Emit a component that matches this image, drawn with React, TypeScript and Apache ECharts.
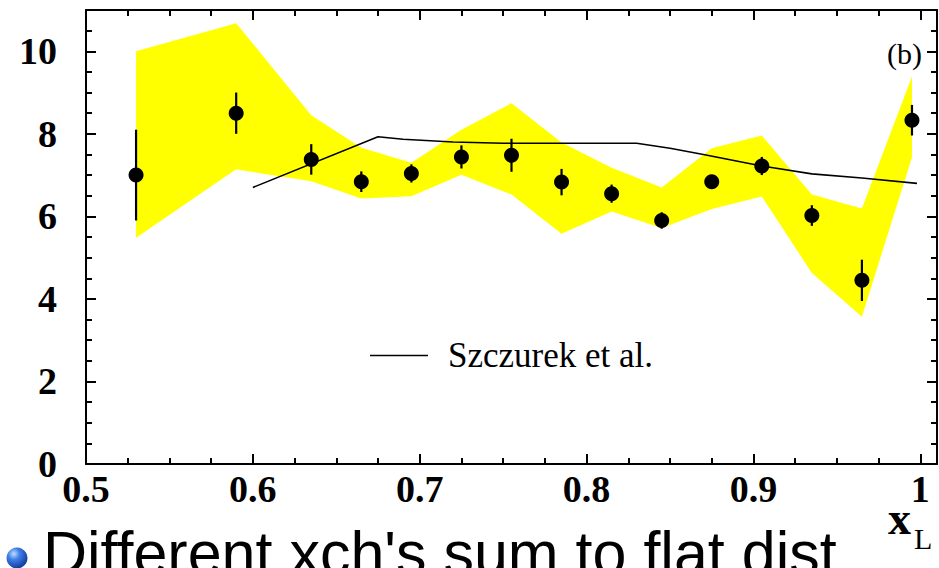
import React, { useEffect, useRef } from "react";
import * as echarts from "echarts";

// ---- data ----
const xValues = [0.53, 0.59, 0.635, 0.665, 0.695, 0.725, 0.755, 0.785, 0.815, 0.845, 0.875, 0.905, 0.935, 0.965, 0.995];
const yValues = [7.0, 8.5, 7.38, 6.84, 7.04, 7.44, 7.48, 6.83, 6.55, 5.9, 6.84, 7.22, 6.02, 4.45, 8.33];
const yErrors = [1.1, 0.5, 0.37, 0.25, 0.22, 0.28, 0.4, 0.32, 0.22, 0.2, 0.15, 0.22, 0.25, 0.5, 0.37];

const bandX = [0.53, 0.59, 0.635, 0.665, 0.695, 0.725, 0.755, 0.785, 0.815, 0.845, 0.875, 0.905, 0.935, 0.965, 0.995];
const bandUpper = [10.0, 10.68, 8.45, 7.66, 7.3, 8.1, 8.74, 7.79, 7.18, 6.7, 7.65, 7.96, 6.53, 6.19, 9.39];
const bandLower = [5.48, 7.14, 6.85, 6.43, 6.49, 7.01, 6.53, 5.58, 6.12, 5.72, 6.18, 6.48, 4.63, 3.57, 7.43];

const theoryX = [0.6, 0.675, 0.69, 0.72, 0.75, 0.83, 0.85, 0.87, 0.905, 0.935, 0.965, 0.998];
const theoryY = [6.7, 7.93, 7.87, 7.8, 7.77, 7.77, 7.65, 7.5, 7.22, 7.03, 6.93, 6.8];

const theoryName = "Szczurek et al.";
const panelLabel = "(b)";
const bottomText = "Different xch's sum to flat dist";

const SERIF = "'Liberation Serif', 'Times New Roman', serif";
const SANS = "'Liberation Sans', Arial, sans-serif";

export default function App() {
  const ref = useRef<HTMLDivElement>(null);

  useEffect(() => {
    if (!ref.current) return;
    const chart = echarts.init(ref.current, undefined, { renderer: "svg" });

    const axisBase = (pos: string, major: boolean, showLabel: boolean, isX: boolean) => ({
      type: "value",
      position: pos,
      min: isX ? 0.5 : 0,
      max: isX ? 1.01 : 11,
      interval: isX ? (major ? 0.1 : 0.025) : major ? 2 : 0.5,
      axisLine: { show: major, onZero: false, lineStyle: { color: "#000", width: 2 } },
      axisTick: {
        show: true,
        inside: true,
        length: major ? 10 : 6,
        lineStyle: { color: "#000", width: 2 },
      },
      axisLabel: {
        show: showLabel,
        showMaxLabel: false,
        color: "#000",
        fontFamily: SERIF,
        fontWeight: "bold",
        fontSize: 38,
        margin: isX ? 6 : 29,
      },
      splitLine: { show: false },
    });

    const option: any = {
      animation: false,
      backgroundColor: "#fff",
      grid: { left: 86, right: 2, top: 10, bottom: 104, containLabel: false },
      xAxis: [
        axisBase("bottom", true, true, true),
        axisBase("bottom", false, false, true),
        axisBase("top", true, false, true),
        axisBase("top", false, false, true),
      ],
      yAxis: [
        axisBase("left", true, true, false),
        axisBase("left", false, false, false),
        axisBase("right", true, false, false),
        axisBase("right", false, false, false),
      ],
      legend: {
        show: true,
        data: [theoryName],
        left: 365,
        top: 333,
        icon: "rect",
        itemWidth: 58,
        itemHeight: 1.6,
        itemStyle: { color: "#000", borderWidth: 0 },
        textStyle: {
          fontFamily: SERIF,
          fontSize: 35,
          color: "#000",
          padding: [0, 0, 0, 15],
        },
      },
      series: [
        {
          type: "custom",
          name: "band",
          z: 1,
          silent: true,
          data: bandX.map((x, i) => [x, bandLower[i], bandUpper[i]]),
          encode: { x: 0, y: 1 },
          renderItem: (params: any, api: any) => {
            if (params.dataIndex !== 0) return { type: "group", children: [] };
            const pts: number[][] = [];
            for (let i = 0; i < bandX.length; i++) pts.push(api.coord([bandX[i], bandUpper[i]]));
            for (let i = bandX.length - 1; i >= 0; i--) pts.push(api.coord([bandX[i], bandLower[i]]));
            return {
              type: "polygon",
              shape: { points: pts },
              style: { fill: "#ffff00", stroke: "none" },
            };
          },
        },
        {
          type: "line",
          name: theoryName,
          z: 3,
          data: theoryX.map((x, i) => [x, theoryY[i]]),
          symbol: "none",
          showSymbol: false,
          lineStyle: { color: "#000", width: 1.6 },
          itemStyle: { color: "#000" },
        },
        {
          type: "custom",
          name: "errors",
          z: 4,
          data: xValues.map((x, i) => [x, yValues[i], yErrors[i]]),
          encode: { x: 0, y: 1 },
          renderItem: (params: any, api: any) => {
            const x = api.value(0);
            const y = api.value(1);
            const e = api.value(2);
            const p1 = api.coord([x, y - e]);
            const p2 = api.coord([x, y + e]);
            return {
              type: "line",
              shape: { x1: p1[0], y1: p1[1], x2: p2[0], y2: p2[1] },
              style: { stroke: "#000", lineWidth: 2.2 },
            };
          },
        },
        {
          type: "scatter",
          name: "data",
          z: 5,
          data: xValues.map((x, i) => [x, yValues[i]]),
          symbol: "circle",
          symbolSize: 15,
          itemStyle: { color: "#000", opacity: 1 },
        },
      ],
      graphic: [
        {
          type: "text",
          right: 17,
          top: 38,
          style: { text: panelLabel, font: `30px ${SERIF}`, fill: "#000" },
        },
        {
          type: "text",
          x: 888,
          y: 518,
          style: {
            text: "x",
            font: `bold 46px ${SERIF}`,
            fill: "#000",
            align: "left",
            verticalAlign: "middle",
          },
        },
        {
          type: "text",
          x: 914,
          y: 538,
          style: {
            text: "L",
            font: `30px ${SERIF}`,
            fill: "#000",
            align: "left",
            verticalAlign: "middle",
          },
        },
        {
          type: "circle",
          shape: { cx: 17, cy: 558, r: 10.5 },
          style: {
            fill: new echarts.graphic.RadialGradient(0.35, 0.3, 0.8, [
              { offset: 0, color: "#bfe0ff" },
              { offset: 0.35, color: "#3f7fe8" },
              { offset: 1, color: "#0a2f8f" },
            ]),
          },
        },
        {
          type: "text",
          x: 43,
          y: 553,
          style: {
            text: bottomText,
            font: `61px ${SANS}`,
            fill: "#000",
            align: "left",
            verticalAlign: "middle",
          },
        },
      ],
    };

    chart.setOption(option);
    return () => chart.dispose();
  }, []);

  return (
    <div
      ref={ref}
      style={{ position: "fixed", left: 0, top: 0, width: 939, height: 568, background: "#fff" }}
    />
  );
}
